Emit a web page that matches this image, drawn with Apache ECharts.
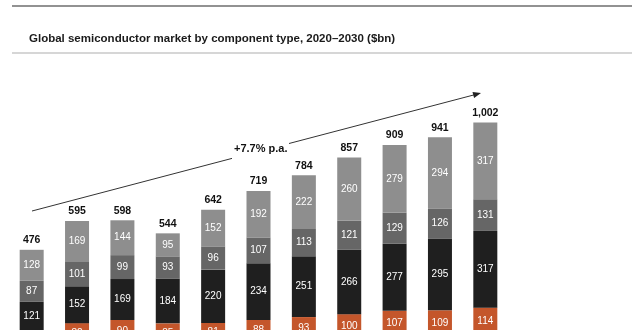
<!DOCTYPE html>
<html>
<head>
<meta charset="utf-8">
<script src="https://cdn.jsdelivr.net/npm/echarts@6/dist/echarts.min.js"></script>
<style>
  html, body { margin: 0; padding: 0; background: #fff; }
  #main { width: 640px; height: 330px; }
</style>
</head>
<body>
<div id="main"></div>
<script>
  // 年份和各组成部分（自下而上）
  var years = ['2020', '2021', '2022', '2023', '2024', '2025', '2026', '2027', '2028', '2029', '2030'];
  var partE = [65, 91, 96, 87, 93, 98, 105, 110, 117, 117, 123];
  var partD = [75, 82, 90, 85, 81, 88, 93, 100, 107, 109, 114];
  var partC = [121, 152, 169, 184, 220, 234, 251, 266, 277, 295, 317];
  var partB = [87, 101, 99, 93, 96, 107, 113, 121, 129, 126, 131];
  var partA = [128, 169, 144, 95, 152, 192, 222, 260, 279, 294, 317];
  var totals = [476, 595, 598, 544, 642, 719, 784, 857, 909, 941, 1002];

  var myChart = echarts.init(document.getElementById('main'));

  var inside = { show: true, color: '#fff', fontSize: 10, fontFamily: 'Liberation Sans, Arial, sans-serif' };

  function seg(name, data, color) {
    return {
      name: name,
      type: 'bar',
      stack: 'all',
      barWidth: 24,
      clip: false,
      data: data,
      itemStyle: { color: color },
      label: inside
    };
  }

  var option = {
    animation: false,
    title: {
      text: 'Global semiconductor market by component type, 2020\u20132030 ($bn)',
      left: 24,
      top: 28,
      textStyle: { fontSize: 11.5, fontWeight: 'bold', color: '#1a1a1a', fontFamily: 'Liberation Sans, Arial, sans-serif' }
    },
    // 图表底部被裁掉：零点在画布下方约35px
    grid: { left: 9, right: 132, top: 98.8, bottom: 0 },
    xAxis: {
      type: 'category',
      data: years,
      show: false
    },
    yAxis: {
      type: 'value',
      min: 144.6,
      max: 1100,
      show: false,
      splitLine: { show: false }
    },
    series: [
      seg('Other', partE, '#e29a72'),
      seg('Discrete', partD, '#c4562b'),
      seg('Logic', partC, '#1f1f1f'),
      seg('Analog', partB, '#666666'),
      seg('Memory', partA, '#8e8e8e'),
      {
        name: 'Total',
        type: 'bar',
        stack: 'all',
        barWidth: 24,
        clip: false,
        data: years.map(function () { return 0; }),
        itemStyle: { color: 'transparent' },
        label: {
          show: true,
          position: 'top',
          distance: 4,
          color: '#111',
          fontSize: 10.5,
          fontWeight: 'bold',
          fontFamily: 'Liberation Sans, Arial, sans-serif',
          formatter: function (p) {
            return totals[p.dataIndex].toLocaleString('en-US');
          }
        }
      }
    ],
    graphic: [
      { type: 'line', shape: { x1: 12, y1: 6, x2: 632, y2: 6 }, style: { stroke: '#6e6e6e', lineWidth: 1.5 } },
      { type: 'line', shape: { x1: 12, y1: 53, x2: 632, y2: 53 }, style: { stroke: '#c8c8c8', lineWidth: 1.5 } },
      // 增长箭头
      { type: 'line', shape: { x1: 32, y1: 211, x2: 232, y2: 158.4 }, style: { stroke: '#333', lineWidth: 1 } },
      { type: 'line', shape: { x1: 289, y1: 143.5, x2: 474, y2: 94.9 }, style: { stroke: '#333', lineWidth: 1 } },
      { type: 'polygon', shape: { points: [[481, 93], [474.1, 97.9], [472.5, 92.1]] }, style: { fill: '#222' } },
      {
        type: 'text',
        left: 234,
        top: 143,
        style: { text: '+7.7% p.a.', fill: '#111', font: 'bold 11px Liberation Sans, Arial, sans-serif' }
      }
    ]
  };

  myChart.setOption(option);
</script>
</body>
</html>
